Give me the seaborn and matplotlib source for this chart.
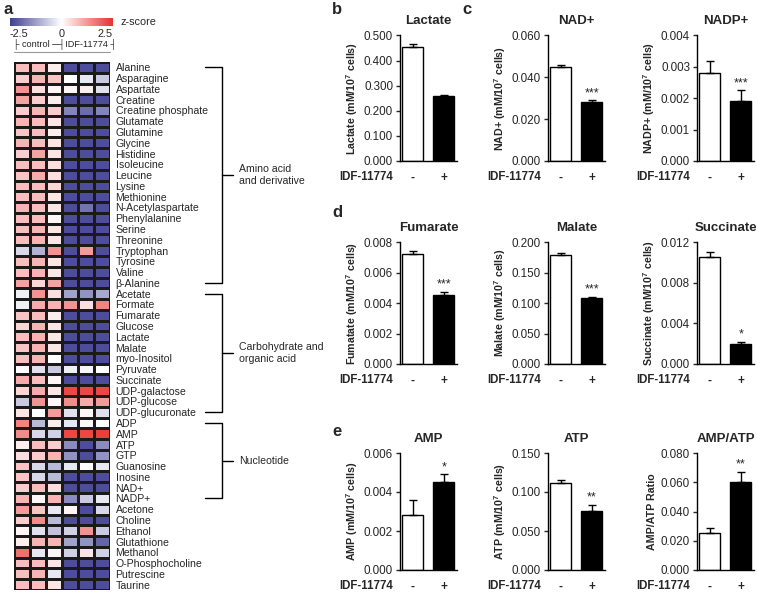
import numpy as np
import pandas as pd
import matplotlib
matplotlib.use("Agg")
import matplotlib.pyplot as plt
import matplotlib.transforms as mtransforms
from matplotlib.colors import LinearSegmentedColormap
from matplotlib.lines import Line2D
import seaborn as sns

# ---------------- heatmap data (a) ----------------
metabolites = [
    "Alanine", "Asparagine", "Aspartate", "Creatine", "Creatine phosphate",
    "Glutamate", "Glutamine", "Glycine", "Histidine", "Isoleucine", "Leucine",
    "Lysine", "Methionine", "N-Acetylaspartate", "Phenylalanine", "Serine",
    "Threonine", "Tryptophan", "Tyrosine", "Valine", "β-Alanine",
    "Acetate", "Formate", "Fumarate", "Glucose", "Lactate", "Malate",
    "myo-Inositol", "Pyruvate", "Succinate", "UDP-galactose", "UDP-glucose",
    "UDP-glucuronate",
    "ADP", "AMP", "ATP", "GTP", "Guanosine", "Inosine", "NAD+", "NADP+",
    "Acetone", "Choline", "Ethanol", "Glutathione", "Methanol",
    "O-Phosphocholine", "Putrescine", "Taurine",
]
# columns: control x3, IDF-11774 x3
zscores = [
    [0.8, 0.8, 0.2, -2.3, -2.3, -2.3],
    [0.6, 0.9, 0.7, 0.0, -0.3, -0.7],
    [1.3, 0.4, 0.1, 0.1, 0.2, -0.4],
    [1.1, 0.6, 0.2, -2.3, -2.3, -2.3],
    [0.6, 0.9, 0.6, -1.6, -1.9, -1.6],
    [0.9, 0.8, 0.3, -2.3, -2.3, -2.3],
    [0.7, 0.8, 0.2, -2.3, -2.3, -2.3],
    [0.9, 0.8, 0.3, -2.3, -2.3, -2.3],
    [0.6, 1.1, 0.3, -2.3, -2.3, -2.3],
    [0.8, 0.8, 0.4, -2.3, -2.3, -2.3],
    [0.7, 1.0, 0.4, -2.3, -2.3, -2.3],
    [0.8, 0.8, 0.5, -2.3, -2.3, -2.3],
    [0.8, 0.8, 0.3, -2.3, -2.3, -2.3],
    [0.9, 0.8, 0.3, -2.3, -1.8, -2.3],
    [0.8, 0.8, 0.1, -2.3, -2.3, -2.3],
    [0.8, 0.9, 0.3, -2.3, -2.3, -2.3],
    [0.8, 0.9, 0.3, -2.3, -2.3, -2.3],
    [-0.5, -1.0, 1.3, -2.3, 1.2, -2.3],
    [0.8, 0.9, 0.3, -2.3, -2.3, -2.3],
    [0.8, 0.9, 0.3, -2.3, -2.3, -2.3],
    [1.1, 0.5, 1.1, -2.3, -2.3, -2.3],
    [-0.2, 1.3, 0.4, -1.2, -1.4, -1.1],
    [-0.2, 1.0, 0.9, 1.3, 0.4, 1.5],
    [0.7, 0.8, 0.2, -2.3, -2.3, -2.3],
    [0.5, 0.9, 0.3, -2.3, -2.3, -2.3],
    [0.8, 0.9, 0.3, -2.3, -2.3, -2.3],
    [0.7, 0.9, 0.3, -2.3, -2.3, -2.3],
    [0.8, 0.9, 0.0, -2.3, -2.3, -2.3],
    [0.0, -0.4, -0.7, -0.2, -0.1, 0.0],
    [1.0, 0.8, 0.1, -2.3, -2.3, -2.3],
    [0.5, 1.0, 0.3, 2.2, 2.2, 2.2],
    [-0.7, 1.3, 0.1, 1.4, 1.0, 1.2],
    [0.3, 0.0, 1.2, -0.4, 0.1, -0.4],
    [1.5, -0.9, 0.2, -0.3, 0.1, 0.0],
    [1.4, -0.5, -0.6, 2.2, 2.2, 2.3],
    [0.2, 0.8, 0.6, -1.5, -2.3, -1.5],
    [0.4, 0.6, 0.9, -1.4, -2.3, -1.4],
    [0.7, -0.5, -0.9, -0.3, 0.0, -0.3],
    [0.7, -0.5, -0.9, -2.3, -2.3, -2.3],
    [0.6, 0.8, 0.4, -2.3, -2.3, -2.3],
    [0.9, 0.1, 0.9, -1.5, -0.7, -0.3],
    [1.2, 0.7, -0.3, 0.1, -2.3, -0.5],
    [0.6, 1.4, -0.9, -2.3, -2.3, -2.3],
    [0.1, -0.4, -0.8, -0.6, 1.3, -0.7],
    [0.2, 0.9, 0.9, -1.2, -1.4, -2.0],
    [1.7, -0.3, 0.1, -0.6, 0.3, -0.6],
    [0.8, 0.8, 0.3, -2.3, -2.3, -2.3],
    [0.8, 0.9, -0.3, -2.3, -2.3, -2.3],
    [0.8, 0.8, 0.3, -2.3, -2.3, -2.3],
]
samples = ["C1", "C2", "C3", "T1", "T2", "T3"]
group_names = ["Amino acid\nand derivative", "Carbohydrate and\norganic acid", "Nucleotide"]
group_first = [0, 21, 33]
group_last = [20, 32, 40]

# ---------------- bar data (b-e) ----------------
titles = ["Lactate", "NAD+", "NADP+", "Fumarate", "Malate", "Succinate", "AMP", "ATP", "AMP/ATP"]
ylabels = ["Lactate", "NAD+", "NADP+", "Fumatate", "Malate", "Succinate", "AMP", "ATP", None]
ctrl_mean = [0.455, 0.045, 0.0028, 0.0072, 0.178, 0.0105, 0.0028, 0.111, 0.025]
ctrl_err = [0.012, 0.001, 0.0004, 0.0002, 0.004, 0.0005, 0.0008, 0.005, 0.004]
idf_mean = [0.258, 0.028, 0.0019, 0.0045, 0.108, 0.0020, 0.0045, 0.076, 0.060]
idf_err = [0.003, 0.001, 0.00035, 0.0002, 0.002, 0.0002, 0.0004, 0.007, 0.007]
stars = ["", "***", "***", "***", "***", "*", "*", "**", "**"]
y_max = [0.5, 0.06, 0.004, 0.008, 0.2, 0.012, 0.006, 0.15, 0.08]
y_step = [0.1, 0.02, 0.001, 0.002, 0.05, 0.004, 0.002, 0.05, 0.02]
treatment = ["-", "+"]

sns.set_style("white")
plt.rcParams["font.family"] = ["Liberation Sans", "DejaVu Sans"]
plt.rcParams["mathtext.default"] = "regular"

W, H = 758, 595
fig = plt.figure(figsize=(W / 100, H / 100), dpi=100)


def px_axes(x0, y_top, w, y_bot):
    return fig.add_axes([x0 / W, 1 - y_bot / H, w / W, (y_bot - y_top) / H])


def fig_text(x, y, s, **kw):
    fig.text(x / W, 1 - y / H, s, **kw)


# --------- heatmap ---------
cmap = LinearSegmentedColormap.from_list("bwr2", ["#3e3e94", "#ffffff", "#e8302c"])
hm = pd.DataFrame(zscores, index=metabolites, columns=samples)
ax_hm = px_axes(14, 62, 96, 590)
cax = px_axes(10, 18, 103, 26)
sns.heatmap(hm, ax=ax_hm, cmap=cmap, vmin=-2.5, vmax=2.5, linewidths=0.9,
            linecolor="#1a1a1a", xticklabels=False, yticklabels=True,
            cbar_ax=cax, cbar_kws={"orientation": "horizontal"})
ax_hm.yaxis.tick_right()
ax_hm.set_yticklabels(metabolites, rotation=0, fontsize=7.6)
ax_hm.tick_params(axis="y", length=0, pad=4)
ax_hm.set_ylabel("")
cax.set_xticks([-2.5, 0, 2.5])
cb_labels = cax.set_xticklabels(["-2.5", "0", "2.5"], fontsize=7.8)
cb_labels[0].set_ha("left")
cb_labels[2].set_ha("right")
cax.tick_params(length=0, pad=2)
for s in cax.spines.values():
    s.set_visible(False)
cbar = ax_hm.collections[0].colorbar
if cbar is not None:
    cbar.outline.set_visible(False)
fig_text(120, 22, "z-score", fontsize=7.8, va="center")
fig_text(13, 44, "├ control ─┤IDF-11774 ┤", fontsize=6.6, va="center")
fig.add_artist(Line2D([14 / W, 110 / W], [1 - 52 / H] * 2, color="#999999", lw=0.8))

# group brackets
trans = mtransforms.blended_transform_factory(ax_hm.transAxes, ax_hm.transData)
for name, a, b in zip(group_names, group_first, group_last):
    ya, yb = a + 0.5, b + 0.5
    ax_hm.plot([1.99, 2.167, 2.167, 1.99], [ya, ya, yb, yb], color="black",
               lw=1, transform=trans, clip_on=False)
    ym = (ya + yb) / 2
    ax_hm.plot([2.167, 2.28], [ym, ym], color="black", lw=1, transform=trans, clip_on=False)
    ax_hm.text(2.34, ym, name, transform=trans, fontsize=7.6, va="center", ha="left")

# --------- bar panels ---------
col_x = [400, 548, 697]
row_y = [(35.5, 161), (242, 364), (453, 570)]
for k in range(9):
    r, c = divmod(k, 3)
    ax = px_axes(col_x[c], row_y[r][0], 57, row_y[r][1])
    df = pd.DataFrame({"IDF": treatment, "value": [ctrl_mean[k], idf_mean[k]]})
    sns.barplot(data=df, x="IDF", y="value", hue="IDF", palette=["white", "black"],
                edgecolor="black", linewidth=1, width=0.68, errorbar=None,
                legend=False, ax=ax)
    ax.errorbar([0, 1], [ctrl_mean[k], idf_mean[k]],
                yerr=[[0, 0], [ctrl_err[k], idf_err[k]]], fmt="none",
                ecolor="black", elinewidth=1, capsize=3, capthick=1)
    if stars[k]:
        ax.annotate(stars[k], xy=(1, idf_mean[k] + idf_err[k]), xytext=(0, 1),
                    textcoords="offset points", ha="center", va="bottom", fontsize=9)
    ax.set_xlim(-0.42, 1.43)
    ax.set_ylim(0, y_max[k])
    ticks = np.arange(0, y_max[k] + y_step[k] / 2, y_step[k])
    ax.set_yticks(ticks)
    ax.set_yticklabels([f"{t:.3f}" for t in ticks], fontsize=8.4)
    ax.set_xticks([0, 1])
    ax.set_xticklabels(treatment, fontsize=8.5, fontweight="bold")
    ax.tick_params(axis="x", length=0, pad=8)
    ax.tick_params(axis="y", length=3, width=1, direction="out", pad=2, left=True)
    for s in ["top", "right"]:
        ax.spines[s].set_visible(False)
    for s in ["left", "bottom"]:
        ax.spines[s].set_color("black")
        ax.spines[s].set_linewidth(1)
    ax.set_xlabel("")
    if ylabels[k]:
        ax.set_ylabel(ylabels[k] + r" (mM/10$^7$ cells)", fontsize=7.7, fontweight="bold", labelpad=3)
    else:
        ax.set_ylabel("AMP/ATP Ratio", fontsize=7.7, fontweight="bold", labelpad=3)
    ax.set_title(titles[k], fontsize=9.5, fontweight="bold", pad=8)
    ax.annotate("IDF-11774", xy=(0, 0), xycoords="axes fraction", xytext=(-5, -11.5),
                textcoords="offset points", ha="right", va="center", fontsize=8.3,
                fontweight="bold")

# panel letters
for letter, x, y in [("a", 8, 9), ("b", 337, 10), ("c", 467, 10), ("d", 337, 212), ("e", 337, 432)]:
    fig_text(x, y, letter, fontsize=12, fontweight="bold", ha="center", va="center")

fig.savefig("out.png", dpi=100)
